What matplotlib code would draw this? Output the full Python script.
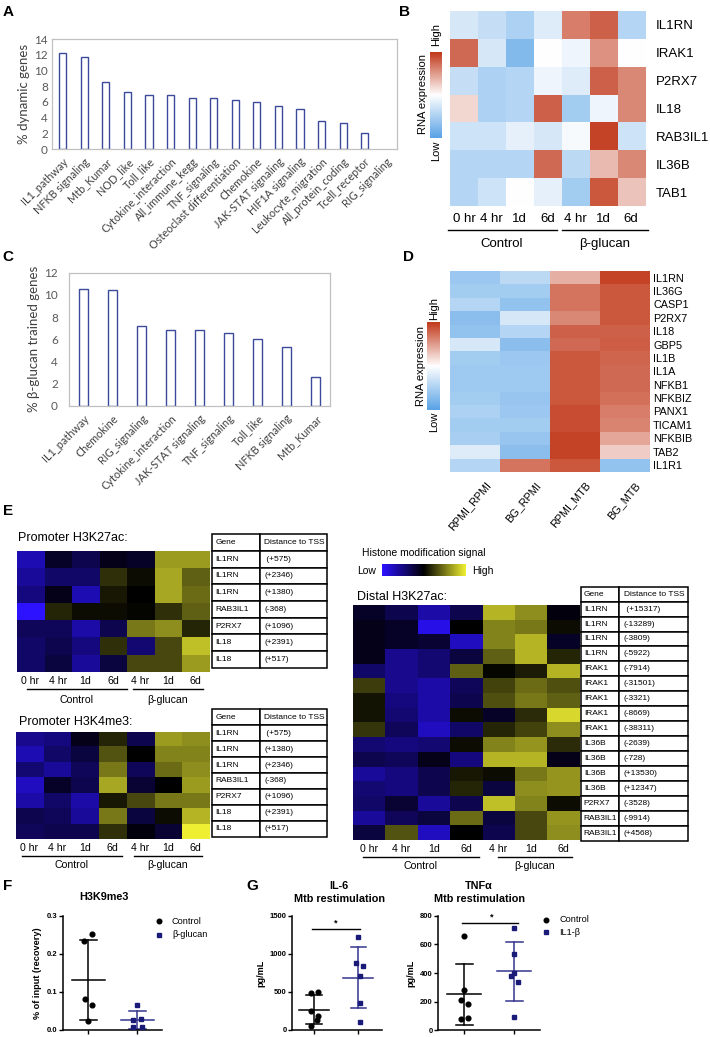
import numpy as np
import matplotlib
matplotlib.use("Agg")
import matplotlib.pyplot as plt
from matplotlib.colors import LinearSegmentedColormap
from matplotlib.lines import Line2D

W, H = 710, 1037
plt.rcParams['font.family'] = ['Liberation Sans', 'DejaVu Sans']

# ---------------- data ----------------
A_CATS = ["IL1_pathway", "NFKB signaling", "Mtb_Kumar", "NOD_like", "Toll_like",
          "Cytokine_interaction", "All_immune_kegg", "TNF_signaling",
          "Osteoclast differentiation", "Chemokine", "JAK-STAT signaling",
          "HIF1A signaling", "Leukocyte_migration", "All_protein_coding",
          "Tcell_receptor", "RIG_signaling"]
A_VALS = [12.3, 11.7, 8.6, 7.3, 6.9, 6.85, 6.5, 6.5, 6.3, 6.0, 5.5, 5.05, 3.6, 3.3, 2.1, 0.0]

C_CATS = ["IL1_pathway", "Chemokine", "RIG_signaling", "Cytokine_interaction",
          "JAK-STAT signaling", "TNF_signaling", "Toll_like", "NFKB signaling", "Mtb_Kumar"]
C_VALS = [10.5, 10.4, 7.2, 6.85, 6.8, 6.6, 6.0, 5.3, 2.55]

TIME_COLS = ["0 hr", "4 hr", "1d", "6d", "4 hr", "1d", "6d"]

B_GENES = ["IL1RN", "IRAK1", "P2RX7", "IL18", "RAB3IL1", "IL36B", "TAB1"]
B_VALS = [[-0.25, -0.35, -0.50, -0.20, 0.65, 0.80, -0.45],
          [0.75, -0.25, -0.75, 0.00, -0.10, 0.55, 0.00],
          [-0.35, -0.50, -0.45, -0.10, -0.20, 0.80, 0.60],
          [0.20, -0.50, -0.45, 0.80, -0.55, -0.10, 0.60],
          [-0.30, -0.30, -0.15, -0.25, -0.05, 0.95, -0.30],
          [-0.45, -0.45, -0.45, 0.75, -0.40, 0.35, 0.60],
          [-0.45, -0.30, 0.00, -0.15, -0.55, 0.85, 0.30]]

D_GENES = ["IL1RN", "IL36G", "CASP1", "P2RX7", "IL18", "GBP5", "IL1B", "IL1A",
           "NFKB1", "NFKBIZ", "PANX1", "TICAM1", "NFKBIB", "TAB2", "IL1R1"]
D_COLS = ["RPMI_RPMI", "BG_RPMI", "RPMI_MTB", "BG_MTB"]
D_VALS = [[-0.60, -0.40, 0.40, 0.95],
          [-0.55, -0.55, 0.70, 0.85],
          [-0.45, -0.65, 0.70, 0.85],
          [-0.70, -0.25, 0.60, 0.85],
          [-0.65, -0.45, 0.80, 0.80],
          [-0.25, -0.70, 0.75, 0.82],
          [-0.55, -0.60, 0.85, 0.78],
          [-0.58, -0.58, 0.85, 0.75],
          [-0.58, -0.58, 0.85, 0.75],
          [-0.55, -0.62, 0.85, 0.72],
          [-0.50, -0.60, 0.90, 0.65],
          [-0.55, -0.55, 0.90, 0.62],
          [-0.52, -0.62, 0.95, 0.45],
          [-0.20, -0.70, 0.95, 0.25],
          [-0.45, 0.70, 0.85, -0.65]]

E1_GENES = ["IL1RN", "IL1RN", "IL1RN", "RAB3IL1", "P2RX7", "IL18", "IL18"]
E1_DIST = [" (+575)", "(+2346)", "(+1380)", "(-368)", "(+1096)", "(+2391)", "(+517)"]
E1_VALS = [[-0.70, -0.15, -0.30, -0.10, -0.15, 0.65, 0.65],
           [-0.60, -0.40, -0.40, 0.20, 0.05, 0.70, 0.40],
           [-0.50, -0.10, -0.70, 0.10, 0.00, 0.70, 0.45],
           [-1.00, 0.15, 0.05, 0.05, 0.02, 0.20, 0.40],
           [-0.35, -0.35, -0.65, -0.30, 0.50, 0.60, 0.15],
           [-0.40, -0.30, -0.50, 0.20, -0.45, 0.30, 0.80],
           [-0.40, -0.25, -0.60, -0.25, 0.30, 0.30, 0.65]]

E2_GENES = ["IL1RN", "IL1RN", "IL1RN", "RAB3IL1", "P2RX7", "IL18", "IL18"]
E2_DIST = [" (+575)", "(+1380)", "(+2346)", "(-368)", "(+1096)", "(+2391)", "(+517)"]
E2_VALS = [[-0.55, -0.50, -0.10, 0.15, -0.30, 0.65, 0.60],
           [-0.70, -0.40, -0.25, 0.35, 0.00, 0.55, 0.55],
           [-0.45, -0.60, -0.35, 0.50, -0.35, 0.45, 0.60],
           [-0.75, -0.15, -0.30, 0.70, -0.20, 0.00, 0.65],
           [-0.65, -0.40, -0.65, 0.10, 0.30, 0.50, 0.50],
           [-0.30, -0.35, -0.60, 0.50, -0.25, 0.05, 0.75],
           [-0.35, -0.30, -0.30, 0.20, -0.05, -0.20, 1.00]]

E3_GENES = ["IL1RN", "IL1RN", "IL1RN", "IL1RN", "IRAK1", "IRAK1", "IRAK1", "IRAK1",
            "IRAK1", "IL36B", "IL36B", "IL36B", "IL36B", "P2RX7", "RAB3IL1", "RAB3IL1"]
E3_DIST = [" (+15317)", "(-13289)", "(-3809)", "(-5922)", "(-7914)", "(-31501)", "(-3321)",
           "(-8669)", "(-38311)", "(-2639)", "(-728)", "(+13530)", "(+12347)", "(-3528)",
           "(-9914)", "(+4568)"]
E3_VALS = [[-0.15, -0.30, -0.65, -0.30, 0.75, 0.60, -0.05],
           [-0.10, -0.15, -0.90, 0.00, 0.55, 0.50, 0.05],
           [-0.10, -0.15, -0.20, -0.75, 0.55, 0.75, -0.15],
           [-0.10, -0.55, -0.45, -0.25, 0.40, 0.75, 0.15],
           [-0.40, -0.55, -0.45, 0.40, 0.03, 0.12, 0.75],
           [0.25, -0.55, -0.65, -0.35, 0.28, 0.45, 0.33],
           [0.08, -0.50, -0.65, -0.30, 0.33, 0.50, 0.40],
           [0.08, -0.45, -0.65, 0.05, -0.15, 0.18, 0.90],
           [0.22, -0.35, -0.75, -0.40, 0.15, 0.28, 0.60],
           [-0.45, -0.50, -0.45, 0.05, 0.55, 0.62, 0.18],
           [-0.30, -0.35, -0.10, -0.50, 0.75, 0.75, -0.10],
           [-0.60, -0.50, -0.30, 0.10, 0.05, 0.50, 0.62],
           [-0.45, -0.50, -0.30, 0.15, -0.25, 0.60, 0.62],
           [-0.40, -0.20, -0.60, -0.30, 0.80, 0.55, 0.05],
           [-0.60, -0.35, -0.25, 0.45, -0.25, 0.30, 0.62],
           [-0.25, 0.35, -0.75, 0.00, -0.30, 0.30, 0.60]]

F_CTRL = [0.253, 0.234, 0.081, 0.066, 0.024]
F_CTRL_JIT = [0.07, -0.08, -0.07, 0.07, 0.0]
F_BG = [0.066, 0.028, 0.026, 0.009, 0.008]
F_BG_JIT = [0.0, 0.08, -0.08, -0.08, 0.1]

IL6_CTRL = [491, 495, 250, 185, 135, 50]
IL6_CTRL_JIT = [-0.07, 0.1, -0.07, 0.1, 0.06, -0.07]
IL6_IL1B = [1220, 877, 842, 714, 359, 109]
IL6_IL1B_JIT = [0.0, -0.06, 0.1, 0.04, 0.04, 0.04]

TNF_CTRL = [661, 282, 212, 182, 77, 88]
TNF_CTRL_JIT = [0.0, 0.0, -0.07, 0.07, -0.07, 0.07]
TNF_IL1B = [713, 534, 403, 382, 340, 95]
TNF_IL1B_JIT = [0.0, 0.0, 0.0, -0.07, 0.07, 0.0]

# ---------------- helpers ----------------
fig = plt.figure(figsize=(W / 100, H / 100), dpi=100)


def px_axes(x0, y0, x1, y1):
    return fig.add_axes([x0 / W, 1 - y1 / H, (x1 - x0) / W, (y1 - y0) / H])


def ftext(x, y, s, **kw):
    kw.setdefault('ha', 'center')
    kw.setdefault('va', 'center')
    fig.text(x / W, 1 - y / H, s, **kw)


def fline(x0, x1, y, lw=1.0, color='black'):
    fig.add_artist(Line2D([x0 / W, x1 / W], [1 - y / H, 1 - y / H], lw=lw,
                          color=color, transform=fig.transFigure))


def heatmap(box, data, cmap):
    ax = px_axes(*box)
    ax.imshow(np.array(data), cmap=cmap, vmin=-1, vmax=1, aspect='auto',
              interpolation='nearest')
    for s in ax.spines.values():
        s.set_visible(False)
    ax.tick_params(length=0)
    ax.set_xticks([])
    ax.set_yticks([])
    return ax


def time_axis(ax, fs, pad):
    ax.set_xticks(range(len(TIME_COLS)))
    ax.set_xticklabels(TIME_COLS, fontsize=fs)
    ax.tick_params(axis='x', length=0, pad=pad)


def table(box, genes, dists, frac, fs=6.0):
    ax = px_axes(*box)
    ax.axis('off')
    rows = [["Gene", "Distance to TSS"]] + [[g, d] for g, d in zip(genes, dists)]
    tb = ax.table(cellText=rows, colWidths=[frac, 1 - frac], bbox=[0, 0, 1, 1],
                  cellLoc='left')
    tb.auto_set_font_size(False)
    tb.set_fontsize(fs)
    for (r, c), cell in tb.get_celld().items():
        cell.set_linewidth(1.1)
        cell.PAD = 0.08 if c == 0 else 0.06
        cell.get_text().set_fontsize(fs)


def dotplot(ax, groups):
    for i, (vals, jit, col, lcol, mk) in enumerate(groups):
        v = np.array(vals, dtype=float)
        mu, sd = v.mean(), v.std(ddof=1)
        ax.plot(i + np.array(jit), v, ls='none', marker=mk, color=col, ms=3.4,
                clip_on=False, zorder=3)
        ax.plot([i - 0.34, i + 0.34], [mu, mu], color=lcol, lw=1.1, zorder=2)
        ax.plot([i, i], [mu - sd, mu + sd], color=lcol, lw=1.1, zorder=2)
        for yv in (mu - sd, mu + sd):
            ax.plot([i - 0.17, i + 0.17], [yv, yv], color=lcol, lw=1.1, zorder=2)


def prism_axes(ax, ylim, yticks, ylabels):
    ax.set_ylim(*ylim)
    ax.set_xlim(-0.52, 1.51)
    ax.set_yticks(yticks)
    ax.set_yticklabels(ylabels, fontsize=5.5, fontweight='bold')
    ax.set_xticks([0, 1])
    ax.set_xticklabels([])
    for s in ("top", "right"):
        ax.spines[s].set_visible(False)
    for s in ("left", "bottom"):
        ax.spines[s].set_linewidth(1.1)
    ax.tick_params(length=3, width=1.0, pad=1)
    ax.patch.set_alpha(0)


rna_cmap = LinearSegmentedColormap.from_list("rna", ["#5aa3e6", "#ffffff", "#c23a1c"])
his_cmap = LinearSegmentedColormap.from_list("his", ["#2c12ff", "#000000", "#eeee32"])
excel_font = ['Lato', 'DejaVu Sans']
bar_edge = "#3c4a9c"

# ---------------- panel labels ----------------
for lab, x, y in [("A", 8, 12), ("B", 405, 12), ("C", 8, 257), ("D", 408, 257),
                  ("E", 8, 511), ("F", 8, 886), ("G", 252, 886)]:
    ftext(x, y, lab, fontsize=11, fontweight='bold')

# ---------------- A ----------------
axA = px_axes(52, 39.3, 397, 149)
xa = np.arange(len(A_CATS))
axA.bar(xa, A_VALS, width=0.33, color='white', edgecolor=bar_edge,
        linewidth=[1.0 if v > 0 else 0 for v in A_VALS])
axA.set_xlim(-0.5, len(A_CATS) - 0.5)
axA.set_ylim(0, 14)
axA.set_yticks(range(0, 15, 2))
axA.set_yticklabels([str(v) for v in range(0, 15, 2)], family=excel_font,
                    fontsize=8.5, color='#595959')
axA.set_xticks(xa)
axA.set_xticklabels(A_CATS, rotation=45, ha='right', rotation_mode='anchor',
                    family=excel_font, fontsize=7.8, color='#404040')
axA.tick_params(length=0, pad=3)
axA.tick_params(axis='x', pad=5)
for s in axA.spines.values():
    s.set_color('#c0c0c0')
    s.set_linewidth(0.9)
axA.set_ylabel("% dynamic genes", family=excel_font, fontsize=9.5, color='#404040',
               labelpad=3)

# ---------------- C ----------------
axC = px_axes(69, 272.7, 330, 405.7)
xc = np.arange(len(C_CATS))
axC.bar(xc, C_VALS, width=0.33, color='white', edgecolor=bar_edge, linewidth=1.0)
axC.set_xlim(-0.5, len(C_CATS) - 0.5)
axC.set_ylim(0, 12)
axC.set_yticks(range(0, 13, 2))
axC.set_yticklabels([str(v) for v in range(0, 13, 2)], family=excel_font,
                    fontsize=8.5, color='#595959')
axC.set_xticks(xc)
axC.set_xticklabels(C_CATS, rotation=45, ha='right', rotation_mode='anchor',
                    family=excel_font, fontsize=7.8, color='#404040')
axC.tick_params(length=0, pad=8)
axC.tick_params(axis='x', pad=5)
for s in axC.spines.values():
    s.set_color('#c0c0c0')
    s.set_linewidth(0.9)
axC.set_ylabel("% β-glucan trained genes", family=excel_font, fontsize=9.5,
               color='#404040', labelpad=3)

# ---------------- B ----------------
axB = heatmap((450, 11, 645, 206), B_VALS, rna_cmap)
time_axis(axB, 9.5, 5)
axB.yaxis.tick_right()
axB.set_yticks(range(len(B_GENES)))
axB.set_yticklabels(B_GENES, fontsize=9.5)
axB.tick_params(axis='y', length=0, pad=8)
fline(448, 557, 230)
fline(562, 648, 230)
ftext(502, 244, "Control", fontsize=9.5)
ftext(605, 244, "β-glucan", fontsize=9.5)

cbB = px_axes(430, 52, 442, 138)
cbB.imshow(np.linspace(1, -1, 100)[:, None], cmap=rna_cmap, vmin=-1, vmax=1,
           aspect='auto')
cbB.axis('off')
ftext(436.5, 34, "High", rotation=90, fontsize=8)
ftext(436.5, 151, "Low", rotation=90, fontsize=8)
ftext(423, 94, "RNA expression", rotation=90, fontsize=8)

# ---------------- D ----------------
axD = heatmap((450, 271, 649, 471.7), D_VALS, rna_cmap)
axD.yaxis.tick_right()
axD.set_yticks(range(len(D_GENES)))
axD.set_yticklabels(D_GENES, fontsize=7.8)
axD.tick_params(axis='y', length=0, pad=3)
axD.set_xticks(np.arange(len(D_COLS)) + 0.2)
axD.set_xticklabels(D_COLS, rotation=50, ha='right', rotation_mode='anchor',
                    fontsize=7.8)
axD.tick_params(axis='x', length=0, pad=6)

cbD = px_axes(427, 322, 440, 410)
cbD.imshow(np.linspace(1, -1, 100)[:, None], cmap=rna_cmap, vmin=-1, vmax=1,
           aspect='auto')
cbD.axis('off')
ftext(434, 309, "High", rotation=90, fontsize=8)
ftext(434, 422, "Low", rotation=90, fontsize=8)
ftext(421, 366, "RNA expression", rotation=90, fontsize=8)

# ---------------- E ----------------
ftext(18, 538, "Promoter H3K27ac:", ha='left', fontsize=9)
axE1 = heatmap((16.7, 551, 209.3, 671.7), E1_VALS, his_cmap)
time_axis(axE1, 7.6, 3)
fline(26.7, 126.7, 689)
fline(133, 203, 689)
ftext(76.7, 700, "Control", fontsize=7.6)
ftext(168, 700, "β-glucan", fontsize=7.6)
table((211.7, 534.3, 326.7, 667.7), E1_GENES, E1_DIST, 0.42)

ftext(19, 721.7, "Promoter H3K4me3:", ha='left', fontsize=9)
axE2 = heatmap((15.7, 731.7, 209.3, 839.3), E2_VALS, his_cmap)
time_axis(axE2, 7.6, 3)
fline(21.7, 121.7, 855.7)
fline(134, 202, 855.7)
ftext(71.7, 865, "Control", fontsize=7.6)
ftext(168, 865, "β-glucan", fontsize=7.6)
table((211.7, 709.3, 326.7, 836.7), E2_GENES, E2_DIST, 0.42)

ftext(362, 552.7, "Histone modification signal", ha='left', fontsize=7.5)
cbE = px_axes(382, 564, 466, 576)
cbE.imshow(np.linspace(-1, 1, 100)[None, :], cmap=his_cmap, vmin=-1, vmax=1,
           aspect='auto')
cbE.axis('off')
ftext(367, 571, "Low", fontsize=7.5)
ftext(483, 571, "High", fontsize=7.5)

ftext(357, 596.7, "Distal H3K27ac:", ha='left', fontsize=9)
axE3 = heatmap((352.7, 605, 579.3, 840), E3_VALS, his_cmap)
time_axis(axE3, 7.6, 3)
fline(363, 479, 856.7)
fline(498, 572, 856.7)
ftext(421, 866, "Control", fontsize=7.6)
ftext(535, 866, "β-glucan", fontsize=7.6)
table((580.7, 586.7, 688.3, 840.7), E3_GENES, E3_DIST, 0.36)

# ---------------- F ----------------
ink = "#1a1a78"
ink_line = "#34348e"
ftext(104, 897, "H3K9me3", fontsize=7.8, fontweight='bold')
axF = px_axes(62.7, 915.7, 162.3, 1030)
dotplot(axF, [(F_CTRL, F_CTRL_JIT, 'black', 'black', 'o'),
              (F_BG, F_BG_JIT, ink, ink_line, 's')])
prism_axes(axF, (0, 0.3), [0, 0.1, 0.2, 0.3], ["0.0", "0.1", "0.2", "0.3"])
axF.set_ylabel("% of input (recovery)", fontsize=6.6, fontweight='bold', labelpad=3)
fig.add_artist(Line2D([159 / W], [1 - 921 / H], marker='o', color='black', ms=3.3,
                      transform=fig.transFigure))
fig.add_artist(Line2D([159 / W], [1 - 934.7 / H], marker='s', color=ink, ms=3.0,
                      transform=fig.transFigure))
ftext(172, 921, "Control", ha='left', fontsize=6.6)
ftext(172, 934.7, "β-glucan", ha='left', fontsize=6.6)

# ---------------- G ----------------
ftext(339, 886, "IL-6", fontsize=7.8, fontweight='bold')
ftext(339, 899, "Mtb restimulation", fontsize=7.8, fontweight='bold')
axG1 = px_axes(292.3, 915.7, 381.7, 1030)
dotplot(axG1, [(IL6_CTRL, IL6_CTRL_JIT, 'black', 'black', 'o'),
               (IL6_IL1B, IL6_IL1B_JIT, ink, ink_line, 's')])
prism_axes(axG1, (0, 1500), [0, 500, 1000, 1500], ["0", "500", "1000", "1500"])
axG1.set_xlim(-0.49, 1.53)
axG1.set_ylabel("pg/mL", fontsize=6.6, fontweight='bold', labelpad=3)
axG1.plot([-0.05, 1.05], [1325, 1325], color='black', lw=1.0, clip_on=False)
axG1.text(0.5, 1340, "*", ha='center', va='bottom', fontsize=6.5, fontweight='bold')

ftext(479, 886, "TNFα", fontsize=7.8, fontweight='bold')
ftext(479, 899, "Mtb restimulation", fontsize=7.8, fontweight='bold')
axG2 = px_axes(438.3, 915.7, 540, 1030.3)
dotplot(axG2, [(TNF_CTRL, TNF_CTRL_JIT, 'black', 'black', 'o'),
               (TNF_IL1B, TNF_IL1B_JIT, ink, ink_line, 's')])
prism_axes(axG2, (0, 800), [0, 200, 400, 600, 800], ["0", "200", "400", "600", "800"])
axG2.set_ylabel("pg/mL", fontsize=6.6, fontweight='bold', labelpad=3)
axG2.plot([-0.05, 1.08], [748, 748], color='black', lw=1.0, clip_on=False)
axG2.text(0.54, 756, "*", ha='center', va='bottom', fontsize=6.5, fontweight='bold')
fig.add_artist(Line2D([545.7 / W], [1 - 920 / H], marker='o', color='black', ms=3.3,
                      transform=fig.transFigure))
fig.add_artist(Line2D([545.7 / W], [1 - 932.3 / H], marker='s', color=ink, ms=3.0,
                      transform=fig.transFigure))
ftext(559, 920, "Control", ha='left', fontsize=6.6)
ftext(559, 932.3, "IL1-β", ha='left', fontsize=6.6)

fig.savefig("out.png", dpi=100)
